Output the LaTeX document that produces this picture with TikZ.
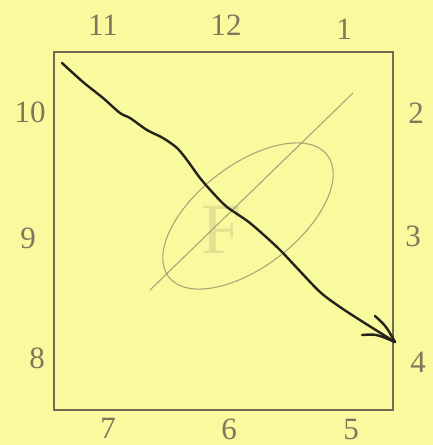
\documentclass[tikz,border=0pt]{standalone}
\usepackage{fontspec}
\setmainfont{Liberation Serif}
\definecolor{paper}{RGB}{249,249,158}
\definecolor{ink}{RGB}{125,119,92}
\definecolor{pen}{RGB}{35,35,25}
\definecolor{pencil}{RGB}{150,146,112}
\begin{document}
\begin{tikzpicture}[x=1pt,y=-1pt,
  lab/.style={text=ink,font=\fontsize{31}{33}\selectfont,inner sep=0pt},
  framebox/.style={draw=ink!90!black,line width=1.4pt,minimum width=339pt,minimum height=358pt,inner sep=0pt},
  penline/.style={draw=pen,line width=2.4pt,line cap=round,line join=round},
  pencilline/.style={draw=pencil,line width=1.1pt,opacity=0.8}]
\fill[paper] (0,0) rectangle (433,445);
\useasboundingbox (0,0) rectangle (433,445);
% frame
\node[framebox] (frame) at (223.5,231) {};
% hour labels
\node[lab] (h11) at (103,25) {11};
\node[lab] (h12) at (226,25) {12};
\node[lab] (h1)  at (344,29) {1};
\node[lab] (h10) at (30,112) {10};
\node[lab] (h2)  at (416,113) {2};
\node[lab] (h9)  at (28,238) {9};
\node[lab] (h3)  at (413,236) {3};
\node[lab] (h8)  at (37,358) {8};
\node[lab] (h4)  at (418,362) {4};
\node[lab] (h7)  at (108,428) {7};
\node[lab] (h6)  at (229,429) {6};
\node[lab] (h5)  at (351,429) {5};
% pencil sketch
\node[text=pencil,opacity=0.22,font=\fontsize{72}{72}\selectfont,inner sep=0pt] (faintF) at (222,230) {F};
\draw[pencilline,rotate around={37.5:(248,216)}] (248,216) ellipse [x radius=100, y radius=51];
\coordinate (pl1) at (150,290);
\coordinate (pl2) at (353,93);
\draw[pencilline] (pl1) -- (pl2);
% hand-drawn arrow
\coordinate (start) at (62,63);
\coordinate (tip) at (395,342);
\coordinate (barbA) at (375,316);
\coordinate (barbB) at (362,335);
\draw[penline] plot[smooth,tension=0.5] coordinates {(start) (83,82) (103,98) (120,113) (130,118) (147,130) (163,138) (177,148) (187,160) (200,178) (213,193) (227,207) (250,223) (278,248) (297,268) (320,292) (340,307) (363,322) (tip)};
\draw[penline] (barbA) .. controls (386,326) .. (tip);
\draw[penline] (barbB) .. controls (376,334) .. (tip);
\end{tikzpicture}
\end{document}
